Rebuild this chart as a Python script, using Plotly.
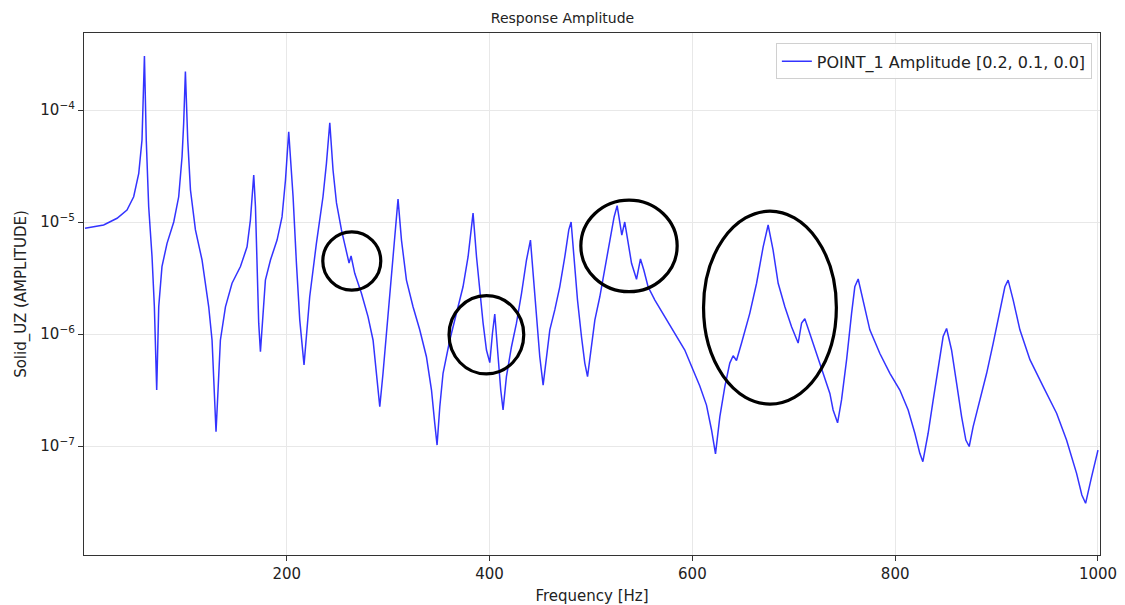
import plotly.graph_objects as go

# Frequency [Hz] and amplitude values
freq = [1, 19.4, 32.6, 42.4, 49.0, 54.0, 57.2, 58.7, 59.6, 61.4, 63.8, 67.1, 69.4, 71.7,
        73.7, 76.9, 81.9, 88.5, 93.4, 96.7, 98.3, 100.0, 102.3, 105.0, 109.9, 116.4, 123.0,
        126.3, 128.6, 130.2, 132.2, 134.5, 139.5, 146.0, 154.3, 160.8, 164.1, 165.7, 167.4,
        169.1, 170.6, 172.3, 174.0, 176.3, 178.9, 183.9, 190.4, 195.3, 198.7, 201.9, 206.2,
        209.5, 212.8, 217.0, 222.6, 229.2, 235.7, 239.1, 242.4, 245.6, 249.0, 253.9, 258.8,
        261.4, 263.4, 267.0, 273.6, 280.1, 285.1, 288.4, 291.7, 294.9, 298.3, 301.5, 306.5,
        309.7, 313.1, 318.0, 324.5, 331.1, 337.7, 342.7, 345.9, 348.2, 350.9, 354.1, 360.7,
        367.3, 373.8, 378.8, 383.7, 387.1, 390.3, 393.6, 396.9, 400.2, 402.8, 405.1, 408.4,
        411.0, 413.3, 416.6, 421.6, 426.5, 431.5, 436.4, 440.3, 442.9, 446.2, 449.5, 452.8,
        456.1, 459.4, 464.3, 469.2, 474.2, 478.1, 480.4, 483.3, 486.7, 490.6, 493.9, 496.6,
        499.8, 503.8, 508.7, 513.6, 518.6, 522.8, 525.8, 528.4, 530.4, 533.3, 536.6, 540.0,
        544.9, 548.8, 552.1, 556.3, 563.0, 572.8, 582.7, 592.5, 600.7, 607.3, 613.9, 618.9,
        622.8, 627.1, 632.0, 636.9, 640.2, 643.5, 648.5, 656.6, 663.3, 669.8, 674.7, 679.6,
        684.6, 691.2, 697.8, 704.3, 707.7, 710.9, 715.8, 722.4, 729.0, 735.6, 738.8, 743.2,
        747.1, 752.1, 757.0, 760.2, 763.5, 768.4, 775.0, 784.9, 794.8, 804.6, 812.8, 819.4,
        824.3, 827.3, 832.5, 837.5, 842.4, 847.3, 850.7, 855.6, 860.6, 865.5, 869.7, 873.0,
        876.9, 883.6, 890.2, 896.7, 903.3, 908.2, 911.4, 916.4, 923.0, 932.9, 946.0, 959.2,
        969.0, 978.9, 984.1, 987.8, 993.7, 1000.0]

amplitude = [8.8e-6, 9.4e-6, 1.08e-5, 1.28e-5, 1.68e-5, 2.72e-5, 5.4e-5, 1.5e-4, 3.03e-4, 5.4e-5,
             1.37e-5, 4.9e-6, 1.75e-6, 3.16e-7,
             1.75e-6, 4.0e-6, 6.45e-6, 1.0e-5, 1.68e-5, 3.83e-5, 7.6e-5, 2.2e-4, 5.4e-5, 1.93e-5,
             8.5e-6, 4.58e-6, 1.75e-6, 8.8e-7, 3.16e-7, 1.34e-7, 3.16e-7, 8.8e-7, 1.75e-6, 2.84e-6,
             4.0e-6, 6.0e-6, 1.04e-5, 1.68e-5, 2.63e-5,
             1.37e-5, 3.48e-6, 1.25e-6, 6.95e-7, 1.53e-6, 3.03e-6, 4.58e-6, 6.9e-6, 1.11e-5,
             2.37e-5, 6.4e-5, 1.68e-5,
             4.28e-6, 1.33e-6, 5.3e-7, 2.15e-6, 6.45e-6, 1.68e-5, 3.34e-5, 7.7e-5, 2.91e-5,
             1.48e-5, 8.5e-6, 5.6e-6,
             4.3e-6, 4.97e-6, 3.48e-6, 2.31e-6, 1.43e-6, 8.8e-7, 4.46e-7, 2.24e-7, 4.46e-7,
             1.01e-6, 2.47e-6, 6.9e-6,
             1.6e-5, 6.9e-6, 3.03e-6, 1.75e-6, 1.09e-6, 6.27e-7, 3.16e-7, 1.6e-7, 1.02e-7,
             2.24e-7, 4.46e-7, 8.8e-7,
             1.53e-6, 2.64e-6, 4.9e-6, 1.2e-5, 4.9e-6, 2.47e-6, 1.25e-6, 7.2e-7, 5.55e-7,
             1.01e-6, 1.51e-6, 6.27e-7,
             3.16e-7, 2.1e-7, 4.16e-7, 7.7e-7, 1.25e-6, 2.31e-6, 4.58e-6, 6.9e-6, 3.48e-6,
             1.43e-6, 6.27e-7, 3.5e-7,
             6.27e-7, 1.09e-6, 1.64e-6, 2.64e-6, 4.9e-6, 8.5e-6, 1.0e-5, 4.9e-6, 2.01e-6,
             9.5e-7, 5.5e-7, 4.16e-7,
             7.2e-7, 1.33e-6, 2.15e-6, 3.73e-6, 6.9e-6, 1.11e-5, 1.4e-5, 9.7e-6, 7.65e-6,
             1.0e-5, 6.45e-6, 4.28e-6,
             3.08e-6, 4.68e-6, 3.73e-6, 2.64e-6, 2.01e-6, 1.43e-6, 1.01e-6, 7.2e-7, 4.77e-7,
             3.43e-7, 2.32e-7, 1.39e-7,
             8.5e-8, 1.83e-7, 3.39e-7, 5.5e-7, 6.4e-7, 5.8e-7, 8.3e-7, 1.53e-6, 2.84e-6,
             6.0e-6, 9.4e-6, 5.6e-6,
             2.84e-6, 1.75e-6, 1.16e-6, 8.3e-7, 1.25e-6, 1.37e-6, 1.01e-6, 6.7e-7, 4.46e-7,
             2.95e-7, 2.1e-7, 1.61e-7,
             2.58e-7, 5.9e-7, 1.53e-6, 2.64e-6, 3.1e-6, 2.01e-6, 1.09e-6, 6.7e-7, 4.46e-7,
             3.16e-7, 2.1e-7, 1.3e-7,
             8.6e-8, 7.25e-8, 1.3e-7, 2.58e-7, 5.1e-7, 9.5e-7, 1.12e-6, 7.2e-7, 3.63e-7,
             1.83e-7, 1.13e-7, 9.9e-8,
             1.49e-7, 2.58e-7, 4.46e-7, 8.3e-7, 1.64e-6, 2.64e-6, 3.03e-6, 2.01e-6, 1.09e-6,
             5.9e-7, 3.39e-7, 1.96e-7,
             1.13e-7, 5.7e-8, 3.65e-8, 3.08e-8, 5.3e-8, 9.2e-8]

x_ticks = [200, 400, 600, 800, 1000]
y_ticks = [1e-7, 1e-6, 1e-5, 1e-4]
y_tick_labels = ["10<sup>\u22127</sup>", "10<sup>\u22126</sup>", "10<sup>\u22125</sup>", "10<sup>\u22124</sup>"]

# Highlight ellipses drawn on the reference (x0, x1, y0, y1 in data units)
highlights = [
    (235.5, 292.7, 2.47e-6, 8.15e-6),
    (360.0, 433.7, 4.4e-7, 2.2e-6),
    (490.0, 585.0, 2.39e-6, 1.57e-5),
    (611.0, 742.0, 2.37e-7, 1.25e-5),
]

FONT = "DejaVu Sans"

fig = go.Figure()
fig.add_trace(go.Scatter(
    x=freq, y=amplitude, mode="lines",
    name="POINT_1 Amplitude [0.2, 0.1, 0.0]",
    line=dict(color="rgba(0,0,255,0.8)", width=1.5),
))

for (x0, x1, y0, y1) in highlights:
    fig.add_shape(type="circle", xref="x", yref="y", x0=x0, x1=x1, y0=y0, y1=y1,
                  line=dict(color="black", width=3.2), layer="above")

axis_common = dict(
    showline=True, linecolor="#333333", linewidth=1.2, mirror=True,
    ticks="outside", ticklen=5, tickwidth=1.2, tickcolor="#333333",
    showgrid=True, gridcolor="#e8e8e8", gridwidth=1,
    zeroline=False, automargin=False,
    tickfont=dict(family=FONT, size=15, color="#222222"),
)

fig.update_layout(
    width=1125, height=605,
    margin=dict(l=84, r=25, t=33, b=50),
    paper_bgcolor="white", plot_bgcolor="white",
    font=dict(family=FONT, color="#222222"),
    title=dict(text="Response Amplitude", x=0.5, xanchor="center", y=0.97, yanchor="middle",
               font=dict(family=FONT, size=14, color="#222222")),
    showlegend=True,
    legend=dict(x=0.992, y=0.98, xanchor="right", yanchor="top",
                bgcolor="rgba(255,255,255,0.9)", bordercolor="#d0d0d0", borderwidth=1,
                font=dict(family=FONT, size=16, color="#222222")),
    xaxis=dict(range=[0, 1002], tickvals=x_ticks,
               title=dict(text="Frequency [Hz]", standoff=10,
                          font=dict(family=FONT, size=15, color="#222222")),
               **axis_common),
    yaxis=dict(type="log", range=[-7.973, -3.3125], tickvals=y_ticks, ticktext=y_tick_labels,
               title=dict(text="Solid_UZ (AMPLITUDE)", standoff=10,
                          font=dict(family=FONT, size=15, color="#222222")),
               **axis_common),
)

fig.write_html("out.html")
